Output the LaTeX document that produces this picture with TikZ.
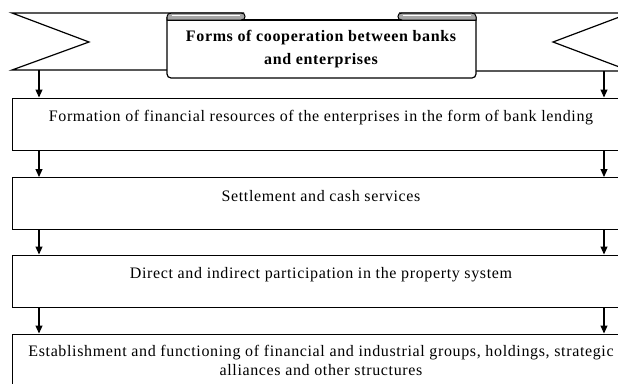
\documentclass[tikz,border=0pt]{standalone}
\usepackage{fontspec}
\setmainfont[LetterSpace=4]{Liberation Serif}
\usetikzlibrary{calc,arrows.meta}
\begin{document}
\begin{tikzpicture}[x=1pt,y=-1pt,
  line width=1.2pt,
  box/.style={draw, fill=white, rectangle, minimum width=618pt, minimum height=52pt,
    inner sep=0pt, anchor=north west},
  lbl/.style={font=\fontsize{16}{18.5}\selectfont, align=center, inner sep=0pt},
  ttl/.style={font=\fontsize{16}{23.5}\selectfont\bfseries, align=center, inner sep=0pt},
  flow/.style={-{Triangle[length=8pt,width=7pt]}, line width=1.1pt},
  curl/.style={draw, fill=black!35, line width=1pt},
  panel/.style={draw, fill=white, line width=1.2pt}
]
\useasboundingbox (0,0) rectangle (618,383);
\clip (0,0) rectangle (618,383);

% ribbon: rear ends with notches
\path[fill=white] (12,13) -- (244,13) -- (244,70) -- (12,70) -- (89,42) -- cycle;
\draw (244,13) -- (12,13) -- (89,42) -- (12,70) -- (167,70);
\path[fill=white] (399,13) -- (630,13) -- (553,42) -- (630,71) -- (399,71) -- cycle;
\draw (399,13) -- (630,13) -- (553,42) -- (630,71) -- (476,71);

% ribbon: front panel
\draw[panel, rounded corners=4pt] (167,17) -- (167,78) -- (476,78) -- (476,17);
\draw (167,20) -- (476,20);

% rolled-back corners
\draw[curl] (167,20) -- (167,16.5) .. controls (167,14) and (169,13) .. (172,13)
  -- (241,13) .. controls (244,13) and (245,14.5) .. (245,16.5)
  .. controls (245,18.5) and (244,20) .. (241,20) -- cycle;
\draw[white, line width=0.8pt] (172,15.2) -- (240,15.2);
\draw[curl] (476,20) -- (476,16.5) .. controls (476,14) and (474,13) .. (471,13)
  -- (402,13) .. controls (399,13) and (398,14.5) .. (398,16.5)
  .. controls (398,18.5) and (399,20) .. (402,20) -- cycle;
\draw[white, line width=0.8pt] (403,15.2) -- (471,15.2);

\node[ttl] (title) at (321,49) {Forms of cooperation between banks\\and enterprises};

% boxes
\node[box] (b1) at (12,97.5) {};
\node[box] (b2) at (12,177) {};
\node[box] (b3) at (12,254.5) {};
\node[box] (b4) at (12,333.5) {};

\node[lbl, anchor=base] (t1) at (321,121.7) {Formation of financial resources of the enterprises in the form of bank lending};
\node[lbl, anchor=base] (t2) at (321,201) {Settlement and cash services};
\node[lbl, anchor=base] (t3) at (321,278.7) {Direct and indirect participation in the property system};
\node[lbl] (t4) at (321,360.5) {Establishment and functioning of financial and industrial groups, holdings, strategic\\alliances and other structures};

% connectors
\coordinate (bl) at (39,70);
\coordinate (br) at (604,71);
\draw[flow] (bl) -- (bl |- b1.north);
\draw[flow] (br) -- (br |- b1.north);
\draw[flow] (bl |- b1.south) -- (bl |- b2.north);
\draw[flow] (br |- b1.south) -- (br |- b2.north);
\draw[flow] (bl |- b2.south) -- (bl |- b3.north);
\draw[flow] (br |- b2.south) -- (br |- b3.north);
\draw[flow] (bl |- b3.south) -- (bl |- b4.north);
\draw[flow] (br |- b3.south) -- (br |- b4.north);
\end{tikzpicture}
\end{document}
